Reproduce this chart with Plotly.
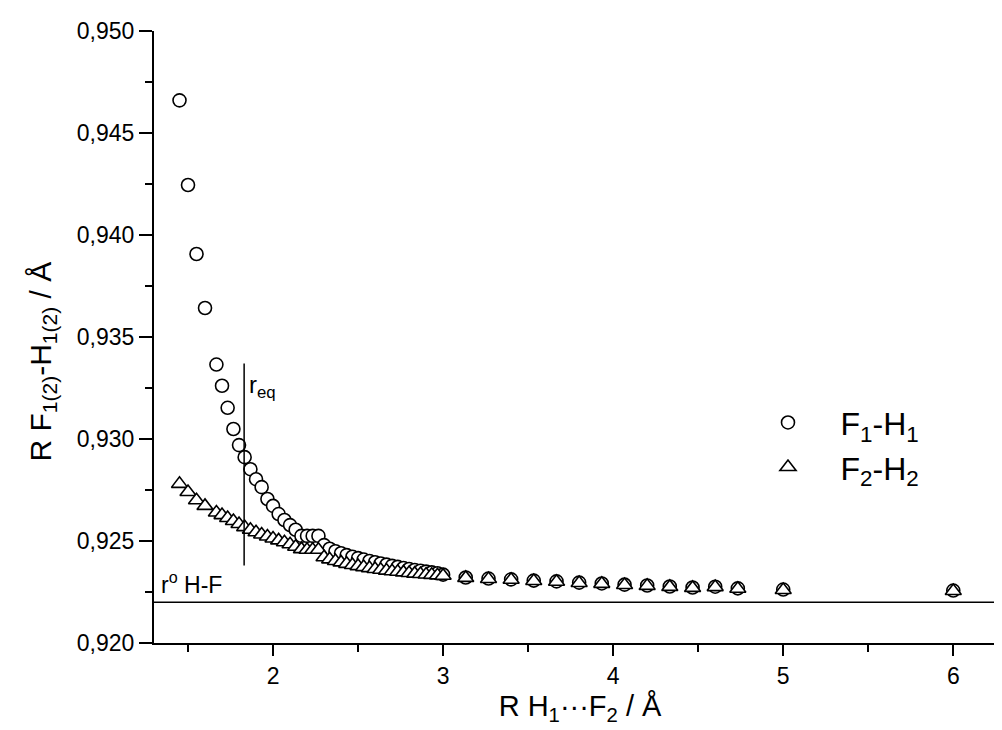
import plotly.graph_objects as go

# ---- data ----
r_hf = [1.45, 1.50, 1.55, 1.60, 1.667, 1.70, 1.733, 1.767, 1.80, 1.833, 1.867, 1.90,
        1.933, 1.967, 2.00, 2.033, 2.067, 2.10, 2.133, 2.167, 2.20, 2.233, 2.267,
        2.30, 2.333, 2.367, 2.40, 2.433, 2.467, 2.50, 2.533, 2.567, 2.60, 2.633,
        2.667, 2.70, 2.733, 2.767, 2.80, 2.833, 2.867, 2.90, 2.933, 2.967, 3.00,
        3.133, 3.267, 3.40, 3.533, 3.667, 3.80, 3.933, 4.067, 4.20, 4.333, 4.467,
        4.60, 4.733, 5.00, 6.00]

f1_h1 = [0.9466, 0.94245, 0.93907, 0.93642, 0.93365, 0.93261, 0.93153, 0.93049,
         0.92970, 0.92911, 0.92852, 0.92803, 0.92764, 0.92706, 0.92672, 0.92632,
         0.92603, 0.92578, 0.92555, 0.92525, 0.92525, 0.92525, 0.92525,
         0.92480, 0.92462, 0.92450, 0.92440, 0.92431, 0.92423, 0.92416, 0.92409,
         0.92402, 0.92396, 0.92390, 0.92384, 0.92378, 0.92373, 0.92368, 0.92363,
         0.92358, 0.92354, 0.92350, 0.92346, 0.92342, 0.92335,
         0.92321, 0.92316, 0.92312, 0.92306, 0.92302, 0.92296, 0.92292, 0.92286,
         0.92282, 0.92277, 0.92272, 0.92276, 0.92268, 0.92262, 0.92257]

f2_h2 = [0.9278, 0.9274, 0.9270, 0.92672, 0.92640, 0.92627, 0.92613, 0.92598,
         0.92583, 0.92568, 0.92555, 0.92543, 0.92532, 0.92522, 0.92512, 0.92503,
         0.92494, 0.92484, 0.92472, 0.92460, 0.92457, 0.92457, 0.92457,
         0.92420, 0.92410, 0.92402, 0.92395, 0.92388, 0.92382, 0.92377, 0.92372,
         0.92367, 0.92363, 0.92359, 0.92355, 0.92352, 0.92349, 0.92346, 0.92343,
         0.92340, 0.92338, 0.92336, 0.92334, 0.92332, 0.92330,
         0.92319, 0.92314, 0.92310, 0.92304, 0.92300, 0.92294, 0.92290, 0.92284,
         0.92280, 0.92275, 0.92270, 0.92274, 0.92266, 0.92260, 0.92255]

series_names = ["F<sub>1</sub>-H<sub>1</sub>", "F<sub>2</sub>-H<sub>2</sub>"]

r_eq_x = 1.83
r_eq_span = [0.9238, 0.9337]
r0_hf = 0.9220

x_range = [1.3, 6.31]
y_range = [0.920, 0.950]

FONT = "Arial, Liberation Sans, sans-serif"

fig = go.Figure()
fig.add_trace(go.Scatter(
    x=r_hf, y=f1_h1, mode="markers", name=series_names[0],
    marker=dict(symbol="circle", size=13, color="white",
                line=dict(color="black", width=1.6))))
fig.add_trace(go.Scatter(
    x=r_hf, y=f2_h2, mode="markers", name=series_names[1],
    marker=dict(symbol="triangle-up", size=14, color="white",
                line=dict(color="black", width=1.6))))

# r_eq vertical line
fig.add_shape(type="line", x0=r_eq_x, x1=r_eq_x, y0=r_eq_span[0], y1=r_eq_span[1],
              xref="x", yref="y", line=dict(color="black", width=1.5))
# r0 H-F horizontal line
fig.add_shape(type="line", x0=0, x1=1, y0=r0_hf, y1=r0_hf,
              xref="paper", yref="y", line=dict(color="black", width=1.5))

fig.add_annotation(x=r_eq_x, y=0.93255, xref="x", yref="y", text="r<sub>eq</sub>",
                   showarrow=False, xanchor="left", yanchor="middle", xshift=3,
                   font=dict(size=24, color="black", family=FONT))
fig.add_annotation(x=0, y=0.92295, xref="paper", yref="y", text="r<sup>o</sup> H-F",
                   showarrow=False, xanchor="left", yanchor="middle", xshift=5,
                   font=dict(size=23, color="black", family=FONT))

# y-axis title (rotated text, slightly below the plot centre as in the reference)
fig.add_annotation(x=0, y=0.9338, xref="paper", yref="y",
                   text="R F<sub>1(2)</sub>-H<sub>1(2)</sub> / Å",
                   showarrow=False, textangle=-90, xanchor="center", yanchor="middle",
                   xshift=-112, font=dict(size=30, color="black", family=FONT))

fig.update_layout(
    width=1002, height=730,
    margin=dict(l=146, r=4, t=23, b=95),
    paper_bgcolor="white", plot_bgcolor="white",
    separators=", ",
    font=dict(family=FONT, color="black", size=22),
    showlegend=True,
    legend=dict(x=0.6825, y=0.405, xanchor="left", yanchor="top",
                font=dict(size=32, family=FONT, color="black"),
                itemwidth=95, bgcolor="rgba(0,0,0,0)", borderwidth=0),
)

fig.update_xaxes(
    range=x_range, showgrid=False, zeroline=False,
    showline=True, linecolor="black", linewidth=2,
    ticks="outside", ticklen=11, tickwidth=2, tickcolor="black",
    tick0=0, dtick=1, tickfont=dict(size=23, family=FONT, color="black"),
    minor=dict(ticks="outside", ticklen=7, tickwidth=2, tickcolor="black", dtick=0.5, tick0=0),
    title=dict(text="R H<sub>1</sub>···F<sub>2</sub> / Å",
               font=dict(size=29, family=FONT, color="black"), standoff=8),
    automargin=False,
)
fig.update_yaxes(
    range=y_range, showgrid=False, zeroline=False,
    showline=True, linecolor="black", linewidth=2,
    ticks="outside", ticklen=13, tickwidth=2, tickcolor="black",
    tick0=0.92, dtick=0.005, tickformat=".3f",
    tickfont=dict(size=23, family=FONT, color="black"),
    minor=dict(ticks="outside", ticklen=7, tickwidth=2, tickcolor="black", dtick=0.0025, tick0=0.92),
    automargin=False,
)

fig.write_html("out.html")
